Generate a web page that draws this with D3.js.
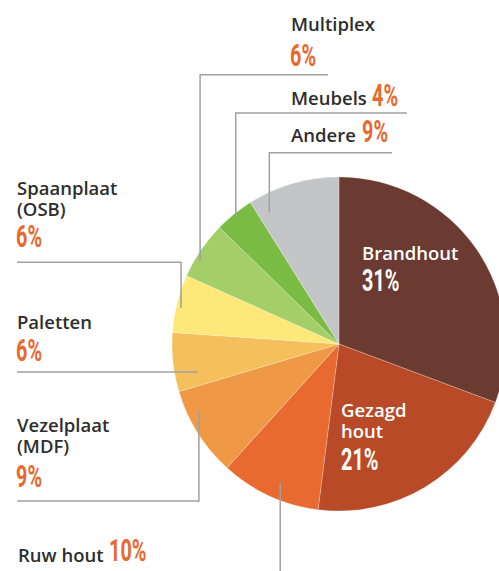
<!DOCTYPE html>
<html>
<head>
<meta charset="utf-8">
<script src="https://cdn.jsdelivr.net/npm/d3@7"></script>
<style>
  html, body { margin: 0; padding: 0; background: #fff; }
  svg { display: block; }
</style>
</head>
<body>
<svg id="chart" width="499" height="571"></svg>
<script>
const names = ["Brandhout", "Gezagd hout", "Ruw hout", "Vezelplaat (MDF)", "Paletten", "Spaanplaat (OSB)", "Multiplex", "Meubels", "Andere"];
const shares = [30.7, 21.3, 9.7, 8.7, 5.7, 5.6, 5.6, 3.8, 8.9];
const pctLabels = ["31%", "21%", "10%", "9%", "6%", "6%", "6%", "4%", "9%"];
const colors = ["#6b3a30", "#b94a27", "#e86a31", "#ef9846", "#f5c05b", "#fde878", "#a4ce67", "#79bb43", "#c4c5c7"];

const orange = "#e8692f";
const dark = "#2e2e2e";
const lineCol = "#a0a0a0";

const svg = d3.select("#chart");
const cx = 339, cy = 344, R = 167;

const pie = d3.pie().sort(null).value(function(d) { return d; });
const arcs = pie(shares);
const arc = d3.arc().innerRadius(0).outerRadius(R);

const g = svg.append("g").attr("transform", "translate(" + cx + "," + cy + ")");
g.selectAll("path")
  .data(arcs)
  .enter().append("path")
    .attr("d", arc)
    .attr("fill", function(d, i) { return colors[i]; })
    .attr("stroke", "#fff")
    .attr("stroke-width", 0.4)
    .attr("stroke-opacity", 0.6);

// point inside a slice: t = fraction along the slice, rr = distance from centre
function inside(i, t, rr) {
  let a = arcs[i].startAngle + t * (arcs[i].endAngle - arcs[i].startAngle);
  return [cx + rr * Math.sin(a), cy - rr * Math.cos(a)];
}

// leader lines: slice index, where they start, elbow y and end x
let leaders = [
  {i: 6, t: 0.34, rr: 162, elbowY: 74.7, toX: 328},
  {i: 7, t: 0.49, rr: 164, elbowY: 113, toX: 407},
  {i: 8, t: 0.13, rr: 149, elbowY: 152.7, toX: 392},
  {i: 5, t: 0.44, rr: 162, elbowY: 262.3, toX: 17},
  {i: 4, t: 0.26, rr: 144, elbowY: null, toX: 17},
  {i: 3, t: 0.72, rr: 155, elbowY: 501, toX: 17},
  {i: 2, t: 0.45, rr: 151, elbowY: 575, toX: null}
];

leaders.forEach(function(l) {
  let p = inside(l.i, l.t, l.rr);
  let pts = [p];
  let ey = l.elbowY === null ? p[1] : l.elbowY;
  pts.push([p[0], ey]);
  if (l.toX !== null) pts.push([l.toX, ey]);
  svg.append("path")
    .attr("d", d3.line()(pts))
    .attr("fill", "none")
    .attr("stroke", lineCol)
    .attr("stroke-width", 1.5);
});

// one text element, one tspan per line
function label(x, y, lines, fill) {
  let t = svg.append("text")
    .attr("x", x)
    .attr("y", y)
    .attr("font-family", "'Open Sans', sans-serif")
    .attr("font-weight", 600)
    .attr("font-size", 18.5)
    .attr("fill", fill || dark);
  lines.forEach(function(s, k) {
    t.append("tspan")
      .attr("x", x)
      .attr("dy", k === 0 ? 0 : 21)
      .text(s);
  });
  return t;
}

function pct(x, y, txt, fill) {
  return svg.append("text")
    .attr("transform", "translate(" + x + "," + y + ") scale(0.64,1)")
    .attr("font-family", "Roboto, sans-serif")
    .attr("font-weight", 700)
    .attr("font-size", 31)
    .attr("fill", fill || orange)
    .text(txt);
}

// labels outside the pie
label(291, 31, ["Multiplex"]);
pct(290, 66, pctLabels[6]);

label(291, 105, ["Meubels"]);
pct(372, 106, pctLabels[7]);

label(291, 141.7, ["Andere"]);
pct(362, 142, pctLabels[8]);

label(17, 195, ["Spaanplaat", "(OSB)"]);
pct(16, 247, pctLabels[5]);

label(17, 329, ["Paletten"]);
pct(16, 360.7, pctLabels[4]);

label(17, 431.7, ["Vezelplaat", "(MDF)"]);
pct(16, 486.7, pctLabels[3]);

label(18, 562, ["Ruw hout"]);
pct(109, 561, pctLabels[2]);

// labels inside the pie
label(362, 260, ["Brandhout"], "#fff");
pct(362, 291, pctLabels[0], "#fff");

label(341, 417, ["Gezagd", "hout"], "#fff");
pct(341, 470, pctLabels[1], "#fff");
</script>
</body>
</html>
